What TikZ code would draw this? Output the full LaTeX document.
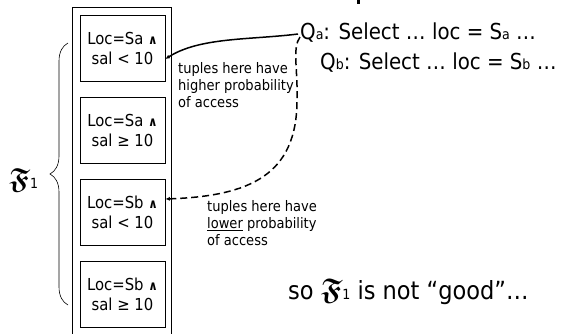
\documentclass[tikz,border=0pt]{standalone}
\usepackage{amsmath,amssymb}
\usepackage{fontspec}
\setmainfont{DejaVu Sans Condensed}
\usetikzlibrary{decorations.pathreplacing,arrows.meta}
\newcommand\smallsub[1]{{\fontsize{14}{14}\selectfont #1}}
\newcommand\frakF{$\boldsymbol{\mathfrak{F}}$}
\newcommand\andsym{{\fontsize{13}{13}\selectfont\bfseries ∧}}
\begin{document}
\begin{tikzpicture}[x=1pt,y=-1pt,
  cell/.style={draw,line width=0.7pt,minimum width=85pt,minimum height=66pt,
    inner sep=0pt,align=center,font=\fontsize{16.5}{20}\selectfont},
  note/.style={anchor=north west,align=left,inner sep=0pt,
    font=\fontsize{14.5}{17}\selectfont},
  query/.style={anchor=west,inner sep=0pt,font=\fontsize{22}{26}\selectfont},
  link/.style={line width=1.5pt,-{Latex[length=4.5pt,width=4pt]}}]
\useasboundingbox (0,0) rectangle (565,333);
% container of the fragments (runs past the lower edge)
\begin{scope}
  \clip (0,0) rectangle (565,333);
  \draw[line width=0.7pt] (72.5,7) rectangle (171,345);
\end{scope}
% tail of a glyph from the title above
\fill (357,0) rectangle (359.5,4);
% fragments
\node[cell] (c1) at (122.5,48)  {Loc=Sa \andsym\\sal < 10};
\node[cell] (c2) at (122.5,130) {Loc=Sa \andsym\\sal ≥ 10};
\node[cell] (c3) at (122.5,212.5) {Loc=Sb \andsym\\sal < 10};
\node[cell] (c4) at (122.5,294) {Loc=Sb \andsym\\sal ≥ 10};
% brace and label
\draw[decorate,decoration={brace,amplitude=18pt},line width=0.6pt] (68,305) -- (68,43);
\node[anchor=west,inner sep=0pt] (flab) at (9,180)
  {{\fontsize{29}{29}\selectfont\frakF}{\fontsize{14}{14}\selectfont 1}};
% queries
\node[query] (qa) at (300,33) {Q\smallsub{a}: Select … loc = S\smallsub{a} …};
\node[query] (qb) at (320,63) {Q\smallsub{b}: Select … loc = S\smallsub{b} …};
% notes
\node[note] (n1) at (178,62) {tuples here have\\higher probability\\of access};
\node[note] (n2) at (207,200) {tuples here have\\\underline{lower} probability\\of access};
\node[query,anchor=west,font=\fontsize{25}{28}\selectfont] (so) at (288,292)
  {so {\fontsize{30}{30}\selectfont\frakF}\smallsub{1} is not “good”…};
% access paths
\draw[link] ([shift={(-2pt,-1pt)}]qa.west) .. controls (250,40) and (200,37) .. ([yshift=-11pt]c1.east);
\draw[link,dash pattern=on 7pt off 4pt] ([shift={(0pt,-4pt)}]qa.west)
  .. controls (292,48) and (298,70) .. (297,100)
  .. controls (297,175) and (250,196) .. ([yshift=13.5pt]c3.east);
\end{tikzpicture}
\end{document}
